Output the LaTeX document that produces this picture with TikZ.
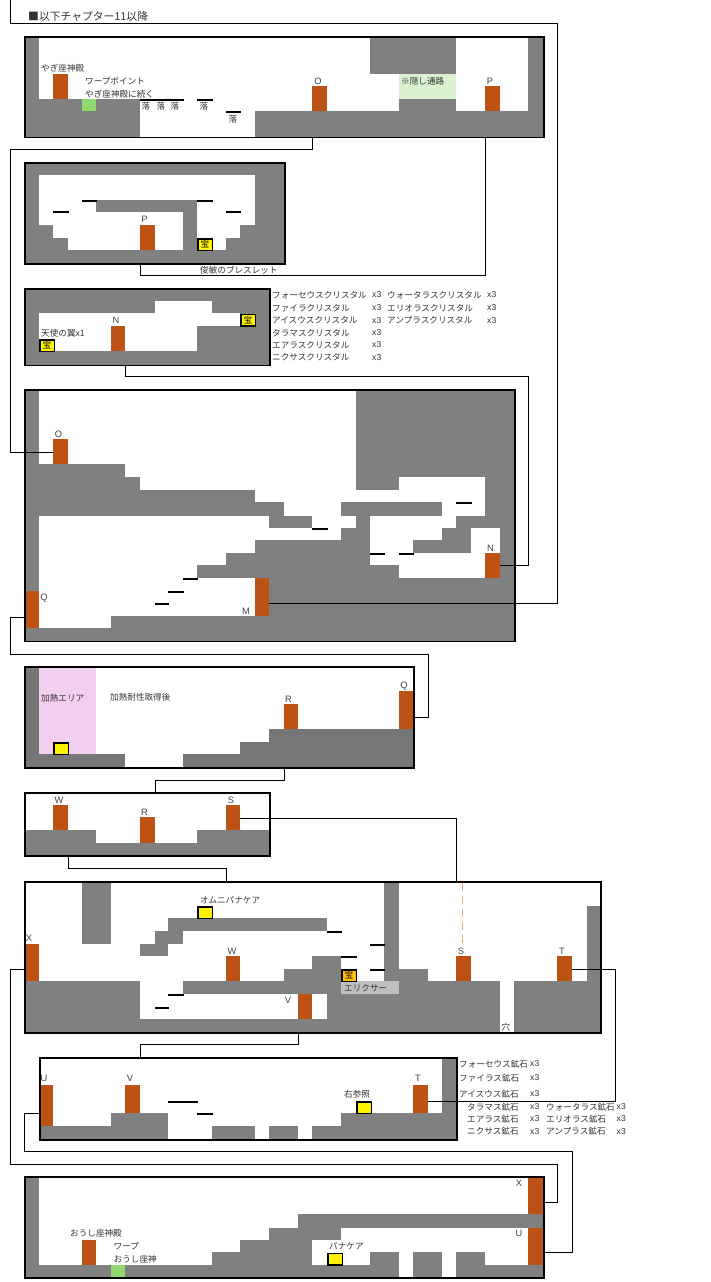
\documentclass[tikz,border=0pt]{standalone}
\usepackage{fontspec}
\setmainfont{Noto Sans CJK JP}
\newfontfamily\latinfont{Liberation Sans}
\usetikzlibrary{fit}
\definecolor{wallgray}{HTML}{808080}
\definecolor{hotgray}{HTML}{767676}
\definecolor{doorbrown}{HTML}{BC5214}
\definecolor{warpgreen}{HTML}{92D870}
\definecolor{paleg}{HTML}{DAF2D0}
\definecolor{hotpink}{HTML}{F2CEEF}
\definecolor{elixirgray}{HTML}{BFBFBF}
\definecolor{chestorange}{HTML}{FFC000}
\definecolor{dashorange}{HTML}{F0AE80}
\tikzset{
  room/.style={draw=black,line width=1.7pt,inner sep=0pt,outer sep=0pt},
  door/.style={fill=doorbrown,inner sep=0pt,outer sep=0pt},
  chest/.style={draw=black,fill=yellow,line width=1.5pt,inner sep=0pt,minimum width=14.5pt,minimum height=11.5pt,font=\fontsize{8.6}{8.6}\selectfont},
  txt/.style={anchor=west,inner sep=0pt,text=black!80,font=\fontsize{8.6}{9}\selectfont},
  cnt/.style={anchor=west,inner sep=0pt,text=black!80,font=\latinfont\fontsize{8.6}{9}\selectfont},
  tag/.style={inner sep=0pt,text=black!75,font=\latinfont\fontsize{9.3}{10}\selectfont},
  fall/.style={inner sep=0pt,text=black!80,font=\fontsize{8.6}{9}\selectfont},
  link/.style={draw=black,line width=0.8pt},
}
\begin{document}
\begin{tikzpicture}[x=1pt,y=-1pt]
  \useasboundingbox (0,0) rectangle (710,1282);
  % rooms that are mostly solid: gray first, then the hollow parts
  \fill[wallgray] (25,163) rectangle (285,264);
  \fill[wallgray] (25,289) rectangle (270,365);
  \fill[wallgray] (25,390) rectangle (515,641);
  \foreach \xa/\ya/\xb/\yb in {39/175/255/225,53/225/240/238,68/238/226/250,39/225/53/225,
    155/301/212/313,39/313/240/326,39/326/197/351,
    39/390/356/464,125/464/356/477,140/477/356/490,255/490/485/502,284/502/341/516,442/502/485/516,
    399/477/485/490,312/516/356/528,370/516/456/528,370/528/442/540,370/540/413/553,370/553/500/565,
    399/565/500/578,471/528/500/553,39/516/269/528,39/528/341/540,39/540/255/553,39/553/226/565,
    39/565/197/578,39/578/255/616,39/616/111/628}
    \fill[white] (\xa,\ya) rectangle (\xb,\yb);
  \foreach \xa/\ya/\xb/\yb in {96/200/197/212,183/212/197/250}
    \fill[wallgray] (\xa,\ya) rectangle (\xb,\yb);
  % the others: only the walls
  \foreach \xa/\ya/\xb/\yb in {25/37/39/99,25/99/140/137,255/111/544/137,370/37/456/74,399/99/456/111,528/37/544/137,
    25/830/96/856,197/830/270/856,96/843/197/856,
    82/882/111/944,25/981/140/1033,140/1019/500/1033,168/918/327/931,155/931/183/944,140/944/168/956,
    183/981/341/994,284/969/341/981,312/956/341/969,327/994/500/1019,399/981/500/1019,384/882/399/981,
    399/969/428/981,428/981/500/1019,514/981/601/1033,587/906/601/981,
    40/1126/111/1140,111/1113/168/1140,212/1126/255/1140,269/1126/298/1140,312/1126/457/1140,341/1113/457/1126,442/1058/457/1113,
    25/1177/39/1265,25/1265/399/1278,212/1252/312/1265,240/1240/312/1252,269/1228/341/1240,298/1214/544/1228,
    370/1252/399/1265,413/1252/442/1278,456/1252/485/1278,485/1265/544/1278}
    \fill[wallgray] (\xa,\ya) rectangle (\xb,\yb);
  \foreach \xa/\ya/\xb/\yb in {25/667/39/754,25/754/125/768,183/754/414/768,240/742/414/754,269/729/414/742}
    \fill[hotgray] (\xa,\ya) rectangle (\xb,\yb);
  \fill[hotpink] (39,667) rectangle (96,754);
  \fill[paleg] (399,74) rectangle (456,99);
  \fill[warpgreen] (82,99) rectangle (96,111);
  \fill[warpgreen] (111,1265) rectangle (125,1278);
  \fill[elixirgray] (341,981) rectangle (399,994);
  % platforms
  \foreach \xa/\yy/\len in {140/99/44,197/99/16,226/111.2/15,
    53/211.4/16,82/200/15,197/200/16,226/211.4/15,
    312/528/16,370/553.2/15,399/553.2/15,456/502.2/16,155/603.2/14,168/591.2/16,183/578.2/15,
    168/994.2/16,155/1007.2/14,327/931.2/15,341/956.2/16,370/944.2/15,370/969.2/15,
    168/1101.2/30,197/1113.2/16}
    \fill[black] (\xa,\yy) rectangle ++(\len,1.8);
  % room frames
  \node[room,fit={(25,37)(544,137.5)}] (room1) {};
  \node[room,fit={(25,163)(285,264)}] (room2) {};
  \node[room,fit={(25,289)(270,365.5)}] (room3) {};
  \node[room,fit={(25,390)(515,641.5)}] (room4) {};
  \node[room,fit={(25,667)(414,768)}] (room5) {};
  \node[room,fit={(25,793)(270,856)}] (room6) {};
  \node[room,fit={(25,882)(601,1033)}] (room7) {};
  \node[room,fit={(40,1058)(457,1140)}] (room8) {};
  \node[room,fit={(25,1177)(544,1278)}] (room9) {};
  % doors
  \node[door,fit={(53,74)(68,99)}] (d1a) {};
  \node[door,fit={(312,86)(327,111)}] (d1o) {};
  \node[door,fit={(485,86)(500,111)}] (d1p) {};
  \node[door,fit={(140,225)(155,250)}] (d2p) {};
  \node[door,fit={(111,326)(125,351)}] (d3n) {};
  \node[door,fit={(53,439)(68,464)}] (d4o) {};
  \node[door,fit={(26,591)(39,628)}] (d4q) {};
  \node[door,fit={(255,578)(269,616)}] (d4m) {};
  \node[door,fit={(485,553)(500,578)}] (d4n) {};
  \node[door,fit={(284,704)(298,729)}] (d5r) {};
  \node[door,fit={(399,691)(413,729)}] (d5q) {};
  \node[door,fit={(53,805)(68,830)}] (d6w) {};
  \node[door,fit={(140,817)(155,843)}] (d6r) {};
  \node[door,fit={(226,805)(240,830)}] (d6s) {};
  \node[door,fit={(26,944)(39,981)}] (d7x) {};
  \node[door,fit={(226,956)(240,981)}] (d7w) {};
  \node[door,fit={(298,994)(312,1019)}] (d7v) {};
  \node[door,fit={(456,956)(471,981)}] (d7s) {};
  \node[door,fit={(557,956)(572,981)}] (d7t) {};
  \node[door,fit={(41,1085)(53,1126)}] (d8u) {};
  \node[door,fit={(125,1085)(140,1113)}] (d8v) {};
  \node[door,fit={(413,1085)(428,1113)}] (d8t) {};
  \node[door,fit={(82,1240)(96,1265)}] (d9a) {};
  \node[door,fit={(528,1178)(543,1214)}] (d9x) {};
  \node[door,fit={(528,1228)(543,1265)}] (d9u) {};
  % chests
  \node[chest] (c2) at (205,244.5) {宝};
  \node[chest] (c3a) at (248,320) {宝};
  \node[chest] (c3b) at (47,345.5) {宝};
  \node[chest] (c5) at (61,748.5) {};
  \node[chest] (c7a) at (205,912.5) {};
  \node[chest,fill=chestorange] (c7b) at (349,975.5) {宝};
  \node[chest] (c8) at (364,1107.5) {};
  \node[chest] (c9) at (335,1259) {};
  % labels
  \node[txt,font=\fontsize{10.8}{11}\selectfont] (title) at (28,16) {■以下チャプター11以降};
  \node[txt] (t1) at (41,68) {やぎ座神殿};
  \node[txt] (t2) at (85,81) {ワープポイント};
  \node[txt] (t3) at (85,94) {やぎ座神殿に続く};
  \node[fall] (f1) at (146,106) {落};
  \node[fall] (f2) at (161,106) {落};
  \node[fall] (f3) at (175,106) {落};
  \node[fall] (f4) at (204,106) {落};
  \node[fall] (f5) at (233,119) {落};
  \node[tag] (l1o) at (318,81) {O};
  \node[tag] (l1p) at (490,81) {P};
  \node[txt] (t4) at (401,81) {※隠し通路};
  \node[tag] (l2p) at (144.5,219) {P};
  \node[txt] (t5) at (200,270) {俊敏のブレスレット};
  \node[tag] (l3n) at (116,320.5) {N};
  \node[txt] (t6) at (41,333.5) {天使の翼x1};
  \node[tag] (l4o) at (58.5,434) {O};
  \node[tag] (l4q) at (44,598) {Q};
  \node[tag] (l4m) at (246,611) {M};
  \node[tag] (l4n) at (490.5,548) {N};
  \node[txt] (t7) at (41,698.5) {加熱エリア};
  \node[txt] (t8) at (110,697) {加熱耐性取得後};
  \node[tag] (l5r) at (288.5,699) {R};
  \node[tag] (l5q) at (404,686) {Q};
  \node[tag] (l6w) at (59,800) {W};
  \node[tag] (l6r) at (144.5,812) {R};
  \node[tag] (l6s) at (231,800) {S};
  \node[txt] (t9) at (200,900) {オムニパナケア};
  \node[tag] (l7x) at (29,938) {X};
  \node[tag] (l7w) at (232,951) {W};
  \node[tag] (l7v) at (288,1000.5) {V};
  \node[tag] (l7s) at (461,951) {S};
  \node[tag] (l7t) at (562,951) {T};
  \node[txt] (t10) at (344,988.5) {エリクサー};
  \node[fall] (t11) at (506,1027) {穴};
  \node[tag] (l8u) at (44,1078) {U};
  \node[tag] (l8v) at (130,1078) {V};
  \node[tag] (l8t) at (418,1078) {T};
  \node[txt] (t12) at (344,1094) {右参照};
  \node[txt] (t13) at (70,1233.5) {おうし座神殿};
  \node[txt] (t14) at (113.5,1246.5) {ワープ};
  \node[txt] (t15) at (113.5,1259.5) {おうし座神};
  \node[txt] (t16) at (329,1246.5) {パナケア};
  \node[tag] (l9x) at (519,1183.5) {X};
  \node[tag] (l9u) at (519,1233.5) {U};
  % crystal list
  \foreach \nn/\yy/\aa in {1/295/フォーセウスクリスタル,2/308/ファイラクリスタル,3/320.5/アイスウスクリスタル,4/333/タラマスクリスタル,5/345/エアラスクリスタル,6/357.5/ニクサスクリスタル}{
    \node[txt] (ca\nn) at (272,\yy) {\aa};
    \node[cnt] (cx\nn) at (372,\yy) {x3};
  }
  \foreach \nn/\yy/\aa in {1/295/ウォータラスクリスタル,2/308/エリオラスクリスタル,3/320.5/アンプラスクリスタル}{
    \node[txt] (cb\nn) at (387,\yy) {\aa};
    \node[cnt] (cy\nn) at (487,\yy) {x3};
  }
  % ore list
  \foreach \nn/\yy/\xx/\aa in {1/1064/459/フォーセウス鉱石,2/1078/459/ファイラス鉱石,3/1094/459/アイスウス鉱石,4/1107/467/タラマス鉱石,5/1119/467/エアラス鉱石,6/1131.5/467/ニクサス鉱石}{
    \node[txt] (oa\nn) at (\xx,\yy) {\aa};
    \node[cnt] (ox\nn) at (530,\yy) {x3};
  }
  \foreach \nn/\yy/\aa in {4/1107/ウォータラス鉱石,5/1119/エリオラス鉱石,6/1131.5/アンプラス鉱石}{
    \node[txt] (ob\nn) at (546,\yy) {\aa};
    \node[cnt] (oy\nn) at (616.5,\yy) {x3};
  }
  % connectors
  \coordinate (topend) at (10.5,0);
  \coordinate (dashtop) at (462.5,883);
  \coordinate (dashend) at (462.5,943);
  \draw[dashorange,line width=1.5pt,dash pattern=on 8pt off 5pt] (dashtop) -- (dashend);
  \draw[link] (d4m.east |- 0,603) -| (557.5,23.5) -| (topend);
  \draw[link] (d1o.south west |- room1.south) |- (10.5,149.5) |- (d4o.west |- 0,452);
  \draw[link] (d1p.south west |- room1.south) |- (d2p.south west |- 0,275.5) -- (d2p.south west |- room2.south);
  \draw[link] (d3n.south east |- room3.south) |- (528.5,376.5) |- (d4n.east |- 0,565);
  \draw[link] (d4q.west |- 0,617) -| (10.5,654.5) -| (428.5,717) -- (d5q.east |- 0,717);
  \draw[link] (d5r.south west |- room5.south) |- (d6r.north east |- 0,780.5) -- (d6r.north east |- room6.north);
  \draw[link] (d6s.east |- 0,818) -| (d7s.north west |- room7.north);
  \draw[link] (d6w.south east |- room6.south) |- (d7w.north west |- 0,868.5) -- (d7w.north west |- room7.north);
  \draw[link] (d7x.west |- 0,969.5) -| (10.5,1164.5) -| (557.5,1202) -- (d9x.east |- 0,1202);
  \draw[link] (d7v.south west |- room7.south) |- (d8v.north east |- 0,1044.5) -- (d8v.north east |- room8.north);
  \draw[link] (d7t.east |- 0,969.5) -| (615.5,1101.5) -- (d8t.east |- 0,1101.5);
  \draw[link] (d8u.west |- 0,1113.5) -| (24.5,1151.5) -| (572.5,1252.5) -- (d9u.east |- 0,1252.5);
\end{tikzpicture}
\end{document}
